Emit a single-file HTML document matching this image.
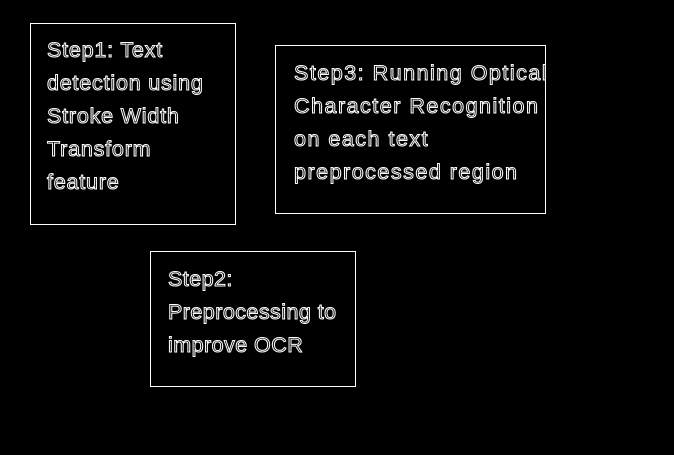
<!DOCTYPE html>
<html><head><meta charset="utf-8"><style>
html,body{margin:0;padding:0;background:#000;width:674px;height:455px;overflow:hidden}
.b{position:absolute;border:1px solid #fff;box-sizing:border-box}
.t{position:absolute;font-family:"Liberation Sans",sans-serif;font-size:21.5px;letter-spacing:0.8px;line-height:33px;color:#000;-webkit-text-stroke:1px #fff;white-space:nowrap}
</style></head><body>
<div class="b" style="left:30px;top:23px;width:206px;height:202px"></div>
<div class="t" style="left:47px;top:34px">Step1: Text<br>detection using<br>Stroke Width<br>Transform<br>feature</div>
<div class="b" style="left:275px;top:45px;width:271px;height:169px"></div>
<div class="t" style="left:294px;top:57px;letter-spacing:1.5px">Step3: Running Optical<br>Character Recognition<br>on each text<br>preprocessed region</div>
<div class="b" style="left:150px;top:251px;width:206px;height:136px"></div>
<div class="t" style="left:168px;top:263px;letter-spacing:0.45px">Step2:<br>Preprocessing to<br>improve OCR</div>
</body></html>
